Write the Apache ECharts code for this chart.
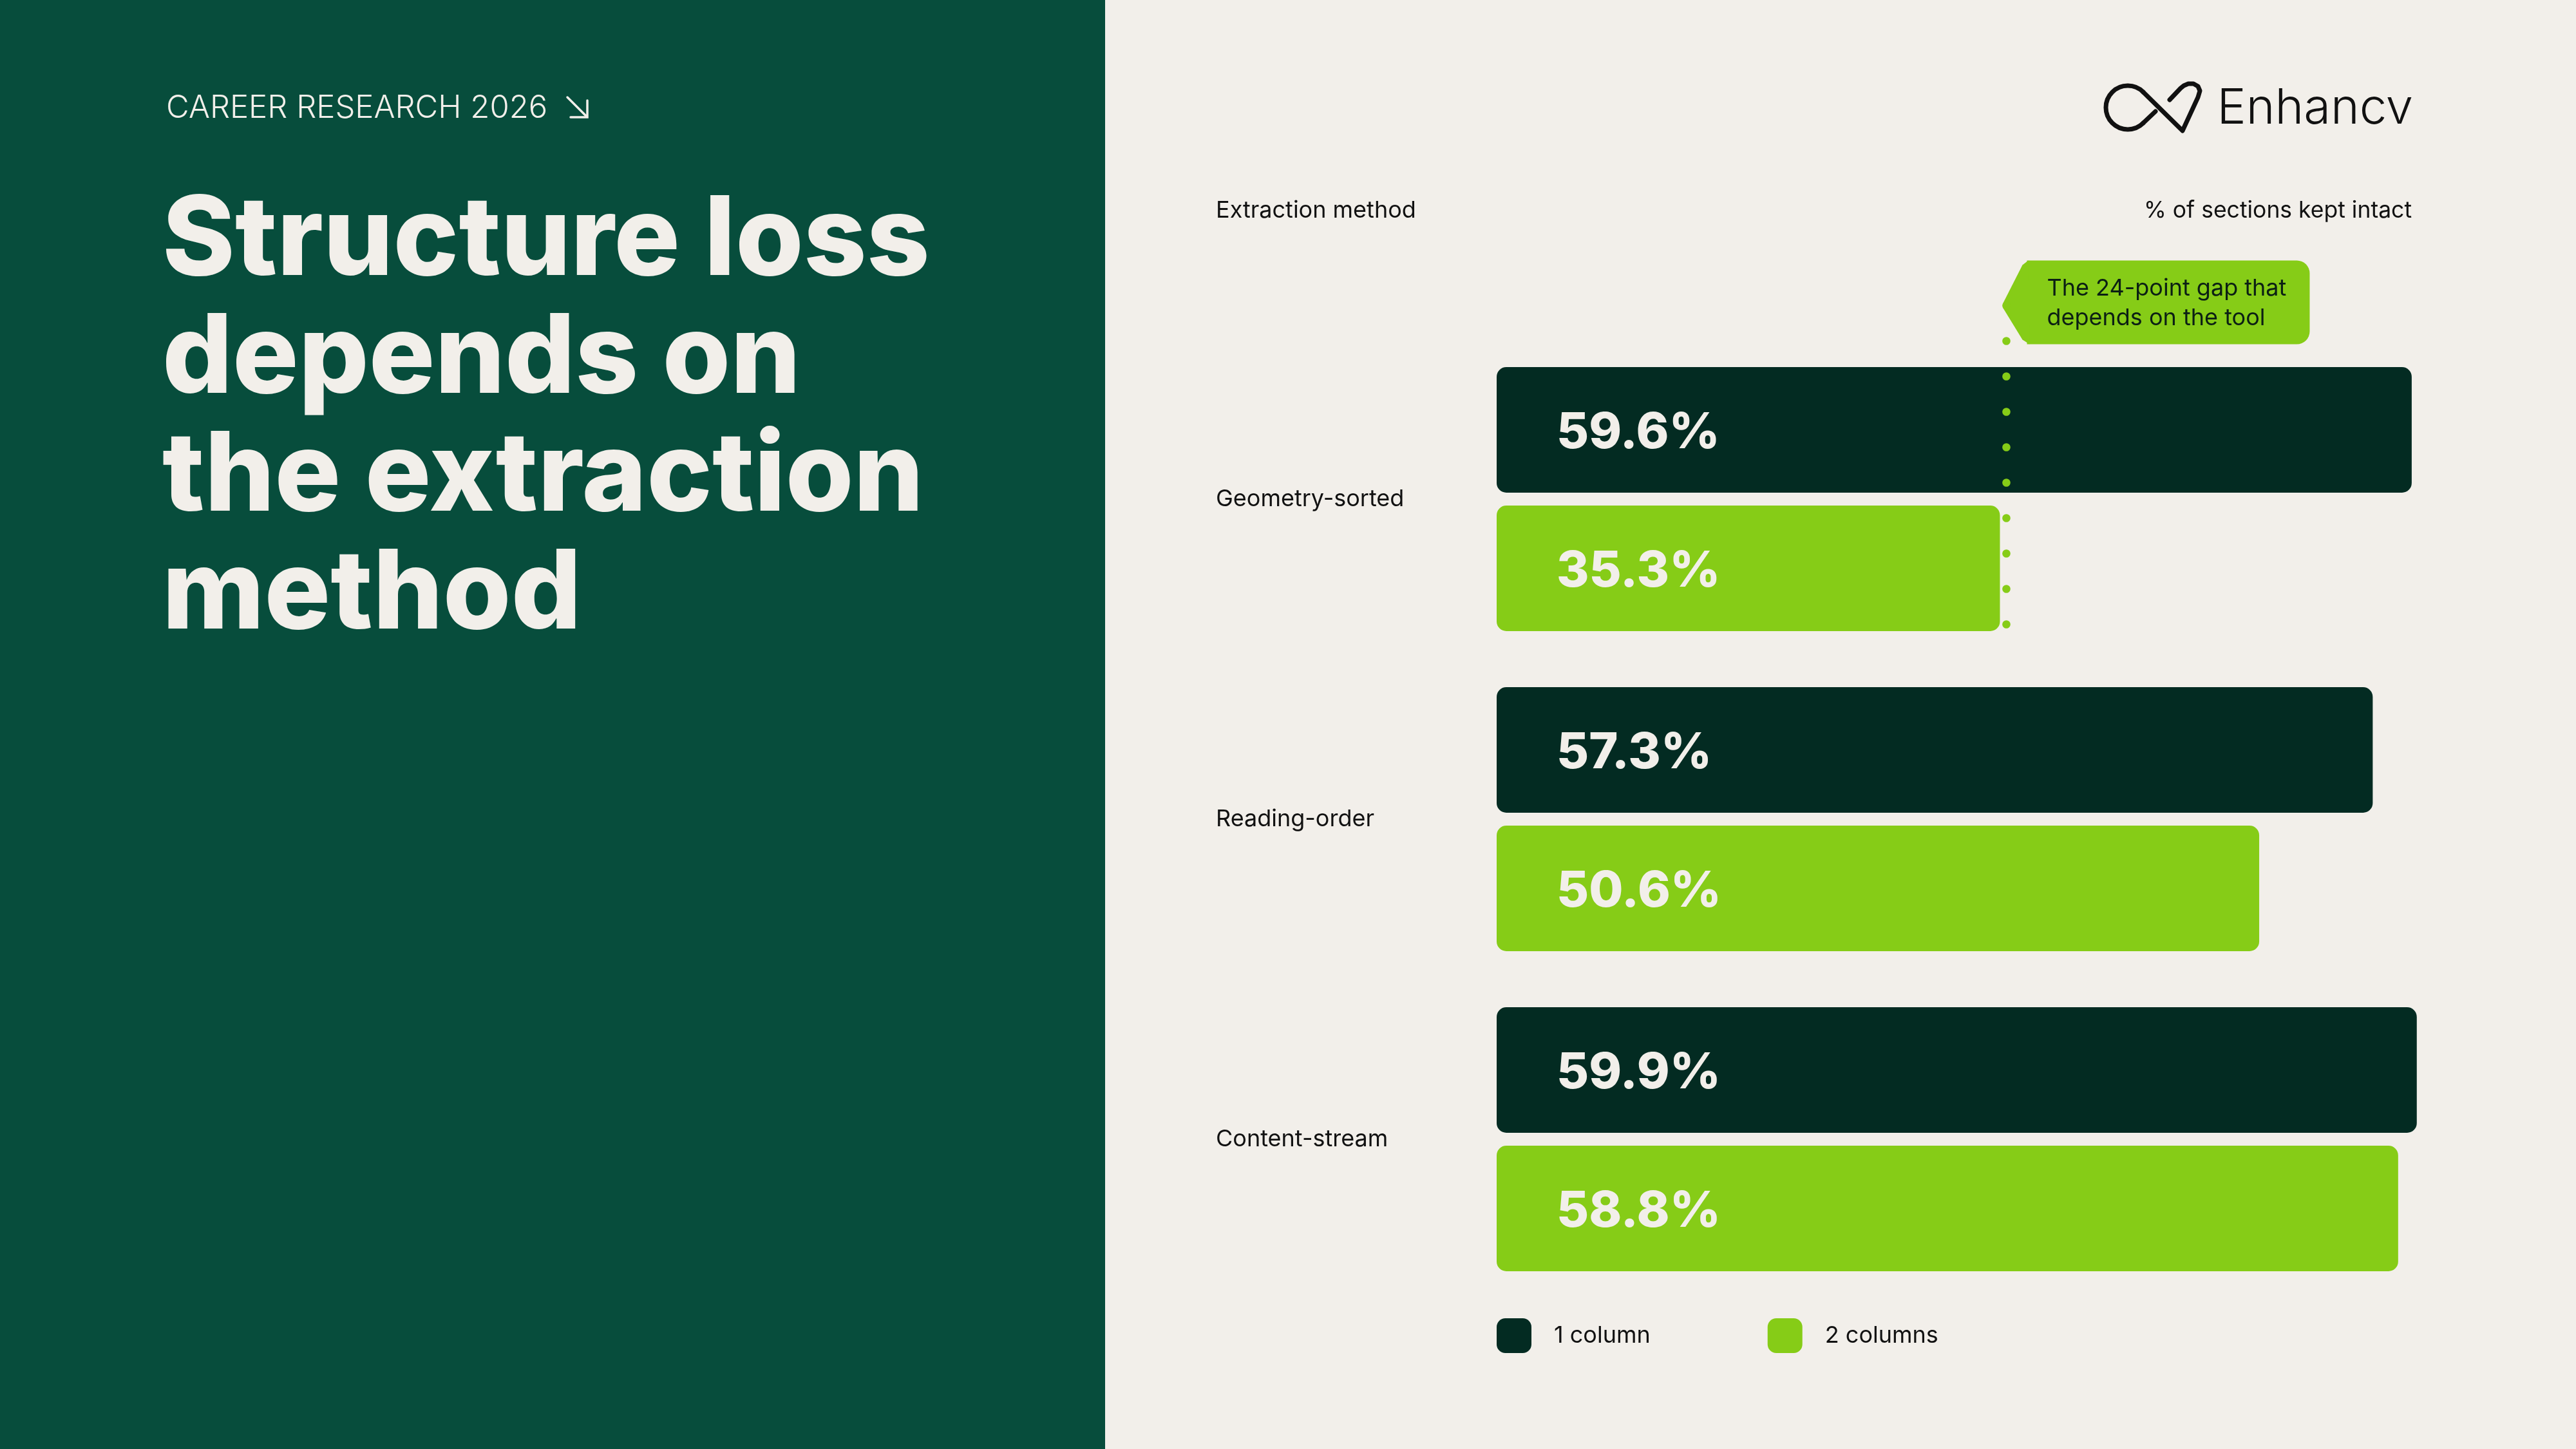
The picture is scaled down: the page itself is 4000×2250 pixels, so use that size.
<!DOCTYPE html>
<html>
<head>
<meta charset="utf-8">
<script src="https://cdn.jsdelivr.net/npm/echarts@6/dist/echarts.min.js"></script>
<style>
html,body{margin:0;padding:0;background:#f2efea;}
#main{width:4000px;height:2250px;}
</style>
</head>
<body>
<div id="main"></div>
<script>
const categories = ['Geometry-sorted', 'Reading-order', 'Content-stream'];
const seriesNames = ['1 column', '2 columns'];
const oneColumn = [59.6, 57.3, 59.9];
const twoColumns = [35.3, 50.6, 58.8];
const titleLines = ['Structure loss', 'depends on', 'the extraction', 'method'];
const kicker = 'CAREER RESEARCH 2026';
const annotationLines = 'The 24-point gap that\ndepends on the tool';

const CREAM = '#f2efea';
const DARK = '#032b22';
const GREEN = '#86cc17';
const PANEL = '#074d3c';
const INK = '#111111';
const FONT = 'Inter, "Noto Sans", sans-serif';

const chart = echarts.init(document.getElementById('main'), null, {renderer: 'canvas', width: 4000, height: 2250});

const labelStyle = {
  show: true,
  position: 'insideLeft',
  distance: 93,
  offset: [0, 5],
  color: CREAM,
  fontFamily: FONT,
  fontWeight: 800,
  fontSize: 77,
  formatter: p => p.value.toFixed(1) + '%'
};

chart.setOption({
  backgroundColor: CREAM,
  animation: false,
  grid: {left: 2324, right: 244.6, top: 526.5, height: 1491, containLabel: false},
  xAxis: {type: 'value', min: 5.6, max: 60, startValue: 5.6, show: false},
  yAxis: {
    type: 'category', data: categories, inverse: true,
    axisLine: {show: false}, axisTick: {show: false}, splitLine: {show: false},
    axisLabel: {align: 'left', margin: 436, color: INK, fontFamily: FONT, fontSize: 36}
  },
  legend: {
    data: seriesNames, left: 2324, top: 2047, orient: 'horizontal', padding: 0,
    itemWidth: 54, itemHeight: 54, itemGap: 182, icon: 'roundRect',
    textStyle: {color: INK, fontFamily: FONT, fontSize: 36, padding: [0, 0, 0, 30]}
  },
  series: [
    {name: seriesNames[0], type: 'bar', data: oneColumn, barWidth: 195, barGap: '10.26%',
     itemStyle: {color: DARK, borderRadius: 15}, label: labelStyle},
    {name: seriesNames[1], type: 'bar', data: twoColumns, barWidth: 195, barGap: '10.26%',
     itemStyle: {color: GREEN, borderRadius: 15}, label: labelStyle}
  ]
});

// annotation anchored on the 2-column Geometry-sorted bar
const barEnd = chart.convertToPixel({xAxisIndex: 0}, twoColumns[0]);
const groupCenter = chart.convertToPixel({yAxisIndex: 0}, categories[0]);
const dx = barEnd + 10;
const tipY = groupCenter - 300.5;

const graphics = [];
graphics.push({type: 'rect', id: 'panel', z: 0, shape: {x: 0, y: 0, width: 1716, height: 2250}, style: {fill: PANEL}});
graphics.push({type: 'text', id: 'kicker', x: 258, y: 168, style: {text: kicker, fill: CREAM, font: '300 49px ' + FONT, verticalAlign: 'middle', align: 'left'}});
// kicker arrow
graphics.push({type: 'line', id: 'arrowShaft', shape: {x1: 881, y1: 151, x2: 910, y2: 180}, style: {stroke: CREAM, lineWidth: 3.5, lineCap: 'round'}});
graphics.push({type: 'polyline', id: 'arrowHead', shape: {points: [[912, 156], [912, 182], [886, 182]]}, style: {stroke: CREAM, lineWidth: 3.5, fill: null, lineCap: 'round', lineJoin: 'miter'}});
titleLines.forEach((t, i) => {
  graphics.push({type: 'text', id: 'title' + i, x: 252, y: 375.5 + i * 183,
    style: {text: t, fill: CREAM, font: '800 171px ' + FONT, verticalAlign: 'middle', align: 'left'}});
});
graphics.push({type: 'text', id: 'ylab', x: 1888, y: 327, style: {text: 'Extraction method', fill: INK, font: '36px ' + FONT, verticalAlign: 'middle', align: 'left'}});
graphics.push({type: 'text', id: 'xlab', x: 3745, y: 327, style: {text: '% of sections kept intact', fill: INK, font: '35.5px ' + FONT, verticalAlign: 'middle', align: 'right'}});
// logo
graphics.push({type: 'text', id: 'logoText', x: 3747, y: 169, style: {text: 'Enhancv', fill: INK, font: '300 76px ' + FONT, verticalAlign: 'middle', align: 'right'}});
graphics.push({type: 'arc', id: 'logoLoop', shape: {cx: 3304, cy: 167, r: 34, startAngle: Math.PI / 4, endAngle: Math.PI * 7 / 4, clockwise: true},
  style: {stroke: INK, lineWidth: 7, fill: null, lineCap: 'round'}});
graphics.push({type: 'polyline', id: 'logoHeart',
  shape: {points: [[3328, 143], [3389, 203], [3413, 151], [3416, 141], [3413, 134], [3406, 130], [3398, 130], [3391, 133], [3386, 137], [3369, 155]]},
  style: {stroke: INK, lineWidth: 7, fill: null, lineCap: 'round', lineJoin: 'round'}});
graphics.push({type: 'line', id: 'logoTail', shape: {x1: 3328, y1: 191, x2: 3347, y2: 173}, style: {stroke: INK, lineWidth: 7, lineCap: 'round'}});
// callout bubble
const L = dx - 6;
graphics.push({type: 'rect', id: 'calloutBody', shape: {x: L + 38, y: tipY - 70, width: 439, height: 130, r: [0, 20, 20, 0]}, style: {fill: GREEN}});
graphics.push({type: 'polygon', id: 'calloutTip',
  shape: {points: [[L + 40, tipY - 70], [L + 31, tipY - 63], [L + 1, tipY - 4], [L + 1, tipY + 4], [L + 31, tipY + 53], [L + 42, tipY + 60]]},
  style: {fill: GREEN}});
graphics.push({type: 'text', id: 'calloutText', x: L + 69, y: tipY - 3,
  style: {text: annotationLines, fill: '#0b1f14', font: '36px ' + FONT, lineHeight: 46, verticalAlign: 'middle', align: 'left'}});
for (let i = 0; i < 10; i++) {
  graphics.push({type: 'circle', id: 'dot' + i, z: 10, shape: {cx: dx, cy: tipY + i * 55, r: 6.3}, style: {fill: GREEN}});
}
chart.setOption({graphic: graphics});
</script>
</body>
</html>
